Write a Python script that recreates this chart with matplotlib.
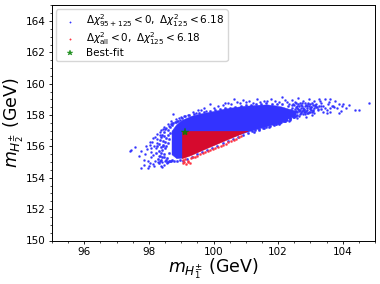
import matplotlib
matplotlib.use('Agg')
import matplotlib.pyplot as plt
from matplotlib.ticker import MultipleLocator

# dense part of the blue cloud, edges
core_x = [98.70, 98.85, 99.02, 99.30, 99.59, 99.85, 100.10, 100.35, 100.62, 100.90, 101.14, 101.40, 101.66, 101.90, 102.10, 102.30, 102.55]
core_top = [157.00, 157.42, 157.70, 157.95, 158.10, 158.20, 158.30, 158.42, 158.50, 158.58, 158.62, 158.66, 158.68, 158.62, 158.55, 158.42, 158.28]
core_bottom = [155.50, 155.25, 155.28, 155.50, 155.75, 156.00, 156.20, 156.45, 156.65, 156.85, 157.00, 157.15, 157.30, 157.45, 157.58, 157.78, 158.02]

# dense part of the red region
red_x = [99.02, 99.30, 99.59, 100.10, 100.62, 101.06]
red_top = [157.0, 157.0, 157.0, 157.0, 157.0, 157.0]
red_bottom = [155.25, 155.45, 155.72, 156.17, 156.62, 157.0]

# sparse blue points around the core
blue_x = [97.41, 97.46, 97.58, 97.69, 97.75, 97.77, 97.85, 97.84, 97.88, 97.95, 97.97, 98.02, 98.05, 98.08, 98.12,
          98.02, 98.10, 98.15, 98.18, 98.22, 98.25, 98.28, 98.30, 98.20, 98.33, 98.38, 98.42, 98.48, 98.55, 98.60,
          97.98, 97.92, 98.04, 98.14, 98.24, 98.35, 98.45, 98.52, 98.62, 98.70, 98.80, 98.88, 98.95, 98.40, 98.50,
          98.12, 98.00, 98.08, 98.17, 98.26, 98.36, 98.46, 98.58, 98.68, 98.74, 98.84, 98.92, 99.00, 99.10, 99.22,
          99.35, 99.45, 99.52, 99.60, 99.70, 99.78, 99.90, 100.02, 100.15, 100.28, 100.36, 100.45, 100.55, 100.62,
          100.72, 100.82, 100.90, 101.02, 101.10, 101.22, 101.35, 101.45, 101.55, 101.66, 101.78, 101.90, 102.02,
          102.12, 102.22, 102.28, 102.35, 102.42, 102.48, 102.52, 102.58, 102.62, 102.68, 102.72, 102.78, 102.82,
          102.88, 102.92, 102.96, 103.02, 103.08, 103.12, 103.16, 103.22, 103.28, 103.34, 103.40, 103.45, 103.52,
          103.58, 103.62, 103.68, 103.75, 103.82, 103.88, 103.95, 104.02, 104.10, 104.18, 104.38, 104.52, 104.80,
          102.30, 102.44, 102.56, 102.70, 102.84, 102.98, 103.10, 103.24, 103.38, 103.50, 103.62, 103.74, 103.90,
          102.18, 102.25, 102.38, 102.50, 102.64, 102.76, 102.90, 103.05, 103.18, 103.32, 103.44, 103.56, 103.70,
          101.92, 102.05, 102.15, 102.34, 102.46, 102.60, 102.74, 102.86, 103.00, 103.14, 103.30, 103.60, 103.98]
blue_y = [155.70, 155.74, 155.95, 155.40, 155.70, 154.60, 154.80, 155.15, 155.52, 155.85, 154.62, 154.95, 155.30, 155.65, 154.85,
          156.10, 156.28, 154.72, 155.05, 155.92, 156.45, 154.98, 155.38, 156.62, 156.72, 154.78, 155.00, 154.82, 154.92, 155.02,
          155.08, 156.05, 156.30, 156.55, 156.80, 156.92, 157.08, 157.18, 157.32, 157.48, 157.55, 157.62, 157.70, 154.70, 155.10,
          155.48, 154.72, 155.88, 156.02, 156.20, 157.06, 157.22, 157.42, 157.60, 158.05, 157.72, 157.80, 157.90, 157.95, 158.02,
          158.22, 158.10, 158.35, 158.30, 158.42, 158.28, 158.68, 158.48, 158.55, 158.62, 158.75, 158.80, 158.72, 159.05,
          158.84, 158.78, 158.95, 158.86, 158.92, 158.78, 159.00, 158.85, 158.92, 158.88, 159.02, 158.90, 158.85,
          159.12, 158.95, 158.82, 158.72, 158.98, 158.62, 158.85, 158.55, 159.08, 158.74, 158.46, 158.92, 158.60,
          158.35, 158.78, 159.02, 158.52, 158.28, 158.88, 158.68, 158.40, 159.00, 158.75, 158.55, 159.05, 158.35,
          158.82, 159.02, 158.60, 158.88, 158.45, 158.68, 158.25, 158.72, 158.42, 158.62, 158.32, 158.30, 158.78,
          158.00, 158.12, 157.92, 158.18, 158.05, 158.22, 158.12, 158.30, 158.20, 158.12, 158.48, 158.50, 158.14,
          157.65, 157.78, 157.70, 157.88, 157.95, 158.08, 158.12, 157.98, 158.52, 158.60, 158.42, 158.70, 158.58,
          157.42, 157.50, 157.72, 157.60, 157.85, 157.82, 158.28, 157.90, 158.40, 158.58, 158.88, 158.22, 158.55]

# more blue points, left side of the cloud and the rim of the core
rim_x = [98.22, 98.28, 98.31, 98.35, 98.38, 98.41, 98.44, 98.47, 98.50, 98.53, 98.25, 98.30, 98.34, 98.37, 98.42,
         98.46, 98.49, 98.52, 98.56, 98.59, 98.63, 98.66, 98.30, 98.36, 98.40, 98.45, 98.48, 98.54, 98.58, 98.62,
         98.33, 98.39, 98.43, 98.47, 98.51, 98.57, 98.61, 98.65, 98.68, 98.72, 98.60, 98.64, 98.67, 98.71, 98.75,
         98.79, 98.83, 98.87, 98.91, 98.96, 99.02, 99.06, 99.12, 99.18, 99.25, 99.32, 99.40, 99.48, 99.56, 99.64,
         99.72, 99.80, 99.88, 99.96, 100.04, 100.12, 100.20, 100.28, 100.36, 100.44, 100.52, 100.60, 100.68, 100.76,
         100.84, 100.92, 101.00, 101.08, 101.16, 101.24, 101.32, 101.40, 101.48, 101.56, 101.64, 101.72, 101.80,
         101.88, 101.96, 102.04, 102.12, 101.20, 101.30, 101.42, 101.52, 101.62, 101.74, 101.84, 101.94, 102.06,
         102.16, 102.26, 102.36, 102.46, 102.32, 102.40, 102.20, 102.10, 102.00, 102.54, 102.66, 102.80]
rim_y = [155.55, 155.20, 155.72, 155.05, 155.95, 155.30, 156.10, 155.50, 156.30, 155.15, 156.05, 156.15, 156.40, 155.60, 155.80,
         155.35, 155.90, 156.55, 155.25, 156.20, 155.60, 156.85, 154.95, 156.60, 156.75, 156.00, 156.90, 156.05, 157.05, 155.05,
         155.40, 155.12, 156.35, 156.65, 157.12, 155.00, 156.45, 157.25, 155.05, 157.35, 156.70, 155.08, 157.42, 155.12, 157.50,
         155.10, 157.58, 155.05, 157.65, 155.12, 157.82, 155.08, 157.92, 155.18, 157.98, 155.30, 158.08, 155.50, 158.14, 155.62,
         158.20, 155.80, 158.26, 155.92, 158.32, 156.05, 158.38, 156.20, 158.42, 156.35, 158.48, 156.48, 158.52, 156.60,
         158.58, 156.72, 158.62, 156.85, 158.66, 156.95, 158.70, 157.05, 158.72, 157.15, 158.74, 157.25, 158.72,
         157.35, 158.70, 157.45, 158.68, 156.98, 157.05, 157.12, 157.18, 157.25, 157.32, 157.40, 157.45, 157.55,
         157.62, 157.72, 157.80, 157.92, 157.98, 158.05, 157.62, 157.58, 157.48, 158.25, 158.30, 158.35]

# busy area on the right where the core breaks up into dots
right_x = [102.30, 102.36, 102.42, 102.48, 102.54, 102.60, 102.66, 102.72, 102.78, 102.84, 102.90, 102.96, 103.02, 103.08, 103.14,
           102.33, 102.39, 102.45, 102.51, 102.57, 102.63, 102.69, 102.75, 102.81, 102.87, 102.93, 102.99, 103.05, 103.11, 103.20,
           102.28, 102.35, 102.41, 102.47, 102.53, 102.59, 102.65, 102.71, 102.77, 102.83, 102.89, 102.95, 103.01, 103.07, 103.26,
           102.22, 102.31, 102.38, 102.44, 102.50, 102.56, 102.62, 102.68, 102.74, 102.80, 102.86, 102.92, 102.98, 103.04, 103.33]
right_y = [158.55, 157.72, 158.62, 157.88, 158.50, 158.02, 158.58, 158.10, 158.48, 158.18, 158.60, 158.22, 158.50, 158.34, 158.62,
           158.05, 158.30, 157.95, 158.40, 158.20, 158.70, 158.32, 158.78, 158.40, 158.28, 158.70, 158.42, 158.76, 158.46, 158.54,
           157.68, 157.90, 158.15, 158.68, 157.95, 158.45, 158.25, 158.62, 158.30, 158.74, 158.48, 158.58, 158.30, 158.62, 158.60,
           157.60, 158.20, 157.82, 158.45, 158.12, 158.76, 158.38, 158.05, 158.55, 158.22, 158.62, 158.12, 158.72, 158.20, 158.38]

# lighter red points below the red block
edge_x = [99.05, 99.10, 99.16, 99.22, 99.28, 99.05, 99.12, 99.20, 99.30, 99.36, 99.42, 99.50, 99.58, 99.66, 99.74,
          99.82, 99.90, 99.98, 100.06, 100.14, 100.22, 100.30, 100.38, 100.46, 100.54, 100.62, 100.70, 100.78, 100.86]
edge_y = [154.92, 155.02, 154.90, 155.00, 154.95, 155.12, 155.18, 155.10, 155.28, 155.35, 155.32, 155.42, 155.50, 155.55, 155.62,
          155.70, 155.78, 155.84, 155.90, 155.98, 156.04, 156.12, 156.18, 156.26, 156.34, 156.42, 156.50, 156.58, 156.68]

best_x = [99.12]
best_y = [156.95]

n = min(len(rim_x), len(rim_y))

plt.figure(figsize=(3.8, 2.84), dpi=100)
ax = plt.axes([52 / 380, 1 - 240.5 / 284, 323 / 380, 235.2 / 284])

blue = (0.2, 0.2, 1.0)
ax.fill_between(core_x, core_bottom, core_top, color=blue, lw=0.3)
ax.scatter(blue_x, blue_y, s=2.2, color=blue, lw=0.2, label=r'$\Delta\chi^2_{95+125}<0,\ \Delta\chi^2_{125}<6.18$')
ax.scatter(rim_x[:n], rim_y[:n], s=3, color=blue, lw=0.2)
ax.scatter(right_x, right_y, s=2.6, color=blue, lw=0.2)
ax.scatter(edge_x, edge_y, s=2.5, color=(1.0, 0.2, 0.25), lw=0.2, label=r'$\Delta\chi^2_{\mathrm{all}}<0,\ \Delta\chi^2_{125}<6.18$')
ax.fill_between(red_x, red_bottom, red_top, color=(0.84, 0.04, 0.18), lw=0.3)
ax.plot(best_x, best_y, '*', color='green', ms=6, ls='none', alpha=0.85, mew=0.3, label='Best-fit')

ax.set_xlim(95, 105)
ax.set_ylim(150, 165)
ax.xaxis.set_major_locator(MultipleLocator(2))
ax.yaxis.set_major_locator(MultipleLocator(2))
ax.xaxis.set_minor_locator(MultipleLocator(0.5))
ax.yaxis.set_minor_locator(MultipleLocator(0.5))
ax.tick_params(which='major', labelsize=7.5, length=2.5, width=0.6, pad=2)
ax.tick_params(which='minor', length=1.5, width=0.5)
for s in ax.spines.values():
    s.set_linewidth(0.7)
ax.set_xlabel(r'$m_{H_1^{\pm}}$ (GeV)', fontsize=12.5, labelpad=0)
ax.set_ylabel(r'$m_{H_2^{\pm}}$ (GeV)', fontsize=12.5, labelpad=0)
ax.legend(loc='upper left', fontsize=7.5, markerscale=0.7, borderaxespad=0.4, handletextpad=0.6,
          labelspacing=0.1, borderpad=0.3)

plt.savefig('out.png', dpi=100)
